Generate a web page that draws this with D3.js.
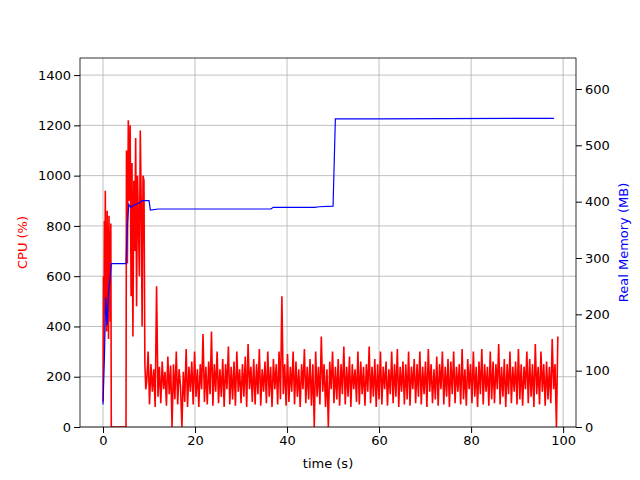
<!DOCTYPE html><html><head><meta charset="utf-8"><script src="https://cdn.jsdelivr.net/npm/d3@7"></script>
<style>body{margin:0;background:#fff}text{font-family:"DejaVu Sans",sans-serif}</style></head><body><svg id="c" width="640" height="480"></svg>
<script>
const xTicks=[0,20,40,60,80,100];
const cpuTicks=[0,200,400,600,800,1000,1200,1400];
const memTicks=[0,100,200,300,400,500,600];
const memT=[0,0.3,0.6,0.9,1.2,1.5,1.8,2,5,5.3,5.6,6,7,8,8.5,10,10.3,12,20,36.5,37,46,47,50,50.5,60,98];
const memV=[40,120,230,180,240,260,290,290,290,360,395,390,395,398,402,402,385,387,387,387,390,390,391,392,547,547,548];
const cpuEarlyT=[0,0.1,0.2,0.3,0.4,0.5,0.6,0.7,0.8,0.9,1,1.1,1.2,1.3,1.4,1.5,1.6,1.7,1.8,1.9,2,5,5.1,5.3,5.5,5.7,5.9,6.1,6.3,6.5,6.7,6.9,7.1,7.3,7.5,7.7,7.9,8.1,8.3,8.5,8.7,8.9,9.1,9.3];
const cpuEarlyV=[100,600,300,820,450,940,500,700,380,860,620,800,350,840,560,780,420,810,0,0,0,0,1100,650,1220,900,1200,520,1050,360,980,700,1150,480,1000,820,600,1180,900,400,1000,980,250,150];
const cpuStart=9.5, cpuStep=0.306;
const cpuV=[180,300,90,250,140,230,80,560,120,240,95,260,150,220,85,280,130,245,0,250,110,300,90,230,160,0,220,100,310,80,240,140,260,90,300,120,230,80,250,150,370,100,240,90,260,130,380,85,250,140,300,95,230,120,270,80,250,150,320,90,240,110,260,85,300,140,230,95,250,120,280,80,330,150,240,100,270,90,250,130,310,85,230,140,260,95,300,120,240,80,270,150,250,90,300,110,520,130,250,85,290,100,240,140,300,90,260,120,230,80,250,150,310,95,240,110,270,85,250,0,300,120,240,90,360,140,250,80,230,0,260,150,300,95,240,110,270,85,250,130,320,90,240,120,280,80,250,150,230,100,300,90,260,130,240,85,250,140,320,95,240,120,270,80,250,110,300,90,240,150,260,85,230,130,300,95,250,120,310,80,240,140,260,90,250,110,300,85,240,150,270,95,250,120,300,90,240,130,260,80,310,140,250,95,230,110,280,85,250,150,300,90,240,120,270,80,260,130,300,95,240,140,250,90,310,110,230,85,270,150,250,95,300,120,240,80,260,130,310,90,250,140,240,85,300,110,260,95,250,150,330,90,240,120,270,80,250,130,300,95,240,140,260,90,310,110,250,85,240,150,300,95,270,120,250,80,330,130,240,90,300,140,250,85,260,110,240,95,350,150,250,0,360];
const cpuT=cpuEarlyT.concat(cpuV.map((v,i)=>cpuStart+i*cpuStep));
const cpuAll=cpuEarlyV.concat(cpuV);
const svg=d3.select("#c");
const L=80,R=576,T=58,B=427;
const x=d3.scaleLinear().domain([-5,102.8]).range([L,R]);
const y=d3.scaleLinear().domain([0,1468]).range([B,T]);
const y2=d3.scaleLinear().domain([0,655]).range([B,T]);
const g=svg.append("g");
xTicks.forEach(t=>g.append("line").attr("x1",x(t)).attr("x2",x(t)).attr("y1",T).attr("y2",B).attr("stroke","#b0b0b0").attr("stroke-width",0.8));
cpuTicks.forEach(t=>g.append("line").attr("x1",L).attr("x2",R).attr("y1",y(t)).attr("y2",y(t)).attr("stroke","#b0b0b0").attr("stroke-width",0.8));
svg.append("clipPath").attr("id","cp").append("rect").attr("x",L).attr("y",T).attr("width",R-L).attr("height",B-T);
svg.append("path").attr("clip-path","url(#cp)").datum(cpuT.map((t,i)=>[t,cpuAll[i]])).attr("fill","none").attr("stroke","red").attr("stroke-width",1.6)
 .attr("d",d3.line().x(d=>x(d[0])).y(d=>y(d[1])));
svg.append("path").datum(memT.map((t,i)=>[t,memV[i]])).attr("fill","none").attr("stroke","blue").attr("stroke-width",1.2)
 .attr("d",d3.line().x(d=>x(d[0])).y(d=>y2(d[1])));
svg.append("rect").attr("x",L).attr("y",T).attr("width",R-L).attr("height",B-T).attr("fill","none").attr("stroke","#000").attr("stroke-width",0.8);
const ax=(a)=>a.tickSizeOuter(0).tickFormat(d3.format("d"));
svg.append("g").attr("transform",`translate(0,${B})`).call(ax(d3.axisBottom(x).tickValues(xTicks))).call(s=>s.select(".domain").remove());
svg.append("g").attr("transform",`translate(${L},0)`).call(ax(d3.axisLeft(y).tickValues(cpuTicks))).call(s=>s.select(".domain").remove());
svg.append("g").attr("transform",`translate(${R},0)`).call(ax(d3.axisRight(y2).tickValues(memTicks))).call(s=>s.select(".domain").remove());
svg.selectAll(".tick text").attr("font-size",13).attr("fill","#000");
svg.append("text").attr("x",(L+R)/2).attr("y",468).attr("text-anchor","middle").attr("font-size",13).text("time (s)");
svg.append("text").attr("transform",`translate(27,${(T+B)/2}) rotate(-90)`).attr("text-anchor","middle").attr("font-size",13).attr("fill","red").text("CPU (%)");
svg.append("text").attr("transform",`translate(628,${(T+B)/2}) rotate(-90)`).attr("text-anchor","middle").attr("font-size",13).attr("fill","blue").text("Real Memory (MB)");
</script></body></html>
